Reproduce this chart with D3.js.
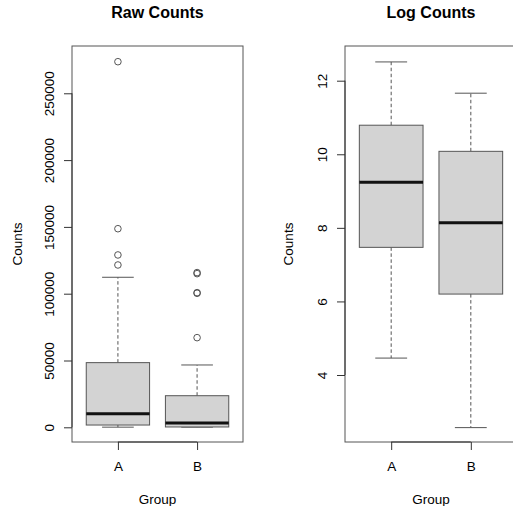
<!DOCTYPE html>
<html>
<head>
<meta charset="utf-8">
<script src="https://cdn.jsdelivr.net/npm/d3@7"></script>
<style>
  html, body { margin: 0; padding: 0; background: #fff; }
  svg { display: block; font-family: "Liberation Sans", Arial, Helvetica, sans-serif; }
</style>
</head>
<body>
<svg id="chart" width="513" height="506"></svg>
<script>
// ---- data ----
const groups = ["A", "B"];
// five-number summaries: [lower whisker, Q1, median, Q3, upper whisker]
const rawStatsA = [100, 1700, 10200, 48400, 112300];
const rawStatsB = [150, 250, 3200, 23650, 46650];
const rawOutliersA = [121500, 129000, 148650, 273650];
const rawOutliersB = [67100, 100300, 100800, 115000, 115800];
const logStatsA = [4.46, 7.47, 9.24, 10.79, 12.51];
const logStatsB = [2.57, 6.20, 8.14, 10.08, 11.66];
const logOutliersA = [];
const logOutliersB = [];
const rawTicks = [0, 50000, 100000, 150000, 200000, 250000];
const logTicks = [4, 6, 8, 10, 12];
const titles = ["Raw Counts", "Log Counts"];
const yLabel = "Counts";
const xLabel = "Group";

const svg = d3.select("#chart");
const lineCol = "#555";
const axisCol = "#333";

function panel(cfg) {
  const { left, right, top, bottom, yDomain, ticks, stats, outliers, title } = cfg;
  const x = d3.scaleLinear().domain([0.42, 2.58]).range([left, right]);
  const y = d3.scaleLinear().domain(yDomain).range([bottom, top]);
  const g = svg.append("g");

  // frame
  g.append("rect")
    .attr("x", left).attr("y", top)
    .attr("width", right - left).attr("height", bottom - top)
    .attr("fill", "none").attr("stroke", lineCol).attr("stroke-width", 1);

  // boxes
  groups.forEach((grp, i) => {
    const s = stats[i];
    const cx = x(i + 1);
    const hw = x(i + 1 + 0.4) - cx;
    const cw = hw / 2;
    const bg = g.append("g");
    // whiskers (dashed)
    bg.append("line").attr("x1", cx).attr("x2", cx).attr("y1", y(s[3])).attr("y2", y(s[4]))
      .attr("stroke", lineCol).attr("stroke-dasharray", "3.5,2.5");
    bg.append("line").attr("x1", cx).attr("x2", cx).attr("y1", y(s[1])).attr("y2", y(s[0]))
      .attr("stroke", lineCol).attr("stroke-dasharray", "3.5,2.5");
    // caps
    [s[0], s[4]].forEach(v => {
      bg.append("line").attr("x1", cx - cw).attr("x2", cx + cw).attr("y1", y(v)).attr("y2", y(v))
        .attr("stroke", lineCol);
    });
    // box
    bg.append("rect")
      .attr("x", cx - hw).attr("y", y(s[3]))
      .attr("width", 2 * hw).attr("height", Math.max(0.5, y(s[1]) - y(s[3])))
      .attr("fill", "#d3d3d3").attr("stroke", lineCol);
    // median
    bg.append("line").attr("x1", cx - hw).attr("x2", cx + hw).attr("y1", y(s[2])).attr("y2", y(s[2]))
      .attr("stroke", "#111").attr("stroke-width", 3);
    // outliers
    bg.selectAll("circle").data(outliers[i]).join("circle")
      .attr("cx", cx).attr("cy", d => y(d)).attr("r", 3.3)
      .attr("fill", "none").attr("stroke", lineCol).attr("stroke-width", 1);
  });

  // y axis
  const ya = g.append("g").attr("transform", `translate(${left},0)`)
    .call(d3.axisLeft(y).tickValues(ticks).tickSize(8).tickFormat(d3.format("d")));
  ya.select(".domain").remove();
  ya.selectAll(".tick line").attr("stroke", axisCol);
  ya.selectAll(".tick text")
    .attr("transform", "rotate(-90)")
    .attr("x", 0).attr("y", -18.5).attr("dy", 0)
    .style("text-anchor", "middle")
    .style("font-size", "13.5px").style("font-family", "inherit").attr("fill", "#000");
  g.append("line").attr("x1", left).attr("x2", left)
    .attr("y1", y(ticks[0])).attr("y2", y(ticks[ticks.length - 1]))
    .attr("stroke", axisCol);

  // x axis
  const xa = g.append("g").attr("transform", `translate(0,${bottom})`)
    .call(d3.axisBottom(x).tickValues([1, 2]).tickSize(8).tickFormat((d, i) => groups[i]));
  xa.select(".domain").remove();
  xa.selectAll(".tick line").attr("stroke", axisCol);
  xa.selectAll(".tick text").attr("y", 28.7).attr("dy", 0)
    .style("font-size", "13.5px").style("font-family", "inherit").attr("fill", "#000");
  g.append("line").attr("x1", x(1)).attr("x2", x(2)).attr("y1", bottom).attr("y2", bottom)
    .attr("stroke", axisCol);

  // title
  g.append("text").attr("x", (left + right) / 2).attr("y", 18.3)
    .attr("text-anchor", "middle").style("font-size", "16px").style("font-weight", "bold")
    .text(title);
  // y label
  g.append("text").attr("transform", `translate(${cfg.ylabX},${(top + bottom) / 2}) rotate(-90)`)
    .attr("text-anchor", "middle").style("font-size", "13.5px").text(yLabel);
  // x label
  g.append("text").attr("x", (left + right) / 2).attr("y", 504.3)
    .attr("text-anchor", "middle").style("font-size", "13.5px").text(xLabel);
}

panel({
  left: 72, right: 243, top: 46, bottom: 442,
  yDomain: [-11000, 285400], ticks: rawTicks,
  stats: [rawStatsA, rawStatsB], outliers: [rawOutliersA, rawOutliersB],
  title: titles[0], ylabX: 21.5
});
panel({
  left: 345, right: 517, top: 46, bottom: 442,
  yDomain: [2.179, 12.943], ticks: logTicks,
  stats: [logStatsA, logStatsB], outliers: [logOutliersA, logOutliersB],
  title: titles[1], ylabX: 293.3
});
</script>
</body>
</html>
